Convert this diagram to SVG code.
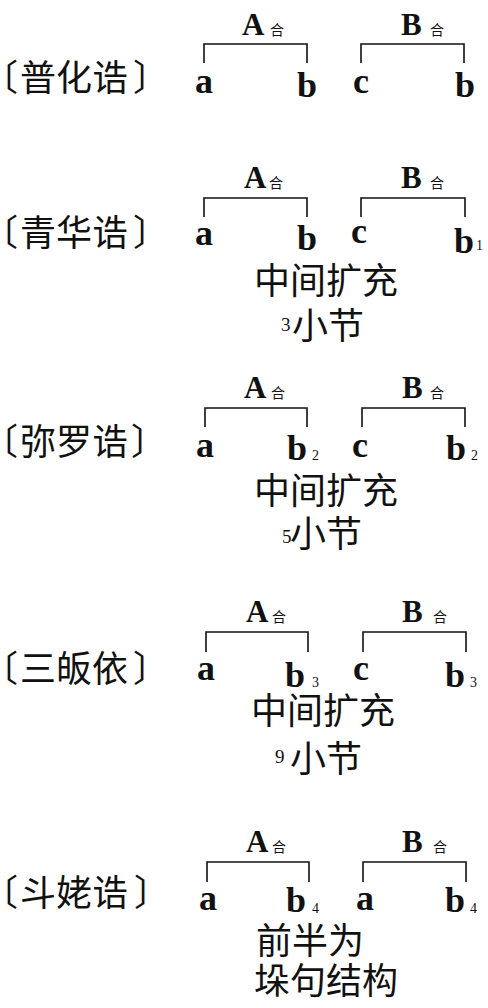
<svg xmlns="http://www.w3.org/2000/svg" width="488" height="1008" viewBox="0 0 488 1008">
<style>
.lab{font-family:"Noto Sans CJK SC","Noto Sans",sans-serif;font-size:36px;fill:#111;font-feature-settings:"halt" 1}
.mid{font-family:"Noto Sans CJK SC","Noto Sans",sans-serif;font-size:36px;fill:#111}
.let{font-family:"Liberation Serif","DejaVu Serif",serif;font-weight:bold;font-size:36px;fill:#111}
.cap{font-family:"Liberation Serif","DejaVu Serif",serif;font-weight:bold;font-size:31px;fill:#111}
.he{font-family:"Noto Sans CJK SC",sans-serif;font-size:14px;fill:#111}
.sub{font-family:"Liberation Serif","DejaVu Serif",serif;font-size:14px;fill:#111}
.num{font-family:"Liberation Serif","DejaVu Serif",serif;font-size:19px;fill:#111}
.br{fill:none;stroke:#111;stroke-width:1.6}
</style>
<rect width="488" height="1008" fill="#fff"/>
<g id="connectors">
<path class="br" d="M204,63V44H307V63M361,63V44H464V63"/>
<path class="br" d="M204,217V198H307V217M361,217V198H465V217"/>
<path class="br" d="M205,427V408H307V427M362,427V408H465V427"/>
<path class="br" d="M206,652V632H308V652M363,652V632H466V652"/>
<path class="br" d="M207,882V862H309V882M363,882V862H466V882"/>
</g>
<g id="row1">
<text class="lab" y="91"><tspan x="0">〔</tspan><tspan x="20">普化诰</tspan><tspan x="133">〕</tspan></text>
<text class="cap" x="242" y="35">A</text><text class="he" x="270" y="35">合</text>
<text class="cap" x="401" y="35">B</text><text class="he" x="430" y="35">合</text>
<text class="let" x="195" y="93">a</text><text class="let" x="297" y="97">b</text>
<text class="let" x="353" y="93">c</text><text class="let" x="455" y="97">b</text>
</g>
<g id="row2">
<text class="lab" y="246"><tspan x="0">〔</tspan><tspan x="20">青华诰</tspan><tspan x="133">〕</tspan></text>
<text class="cap" x="244" y="188">A</text><text class="he" x="269" y="188">合</text>
<text class="cap" x="401" y="188">B</text><text class="he" x="430" y="188">合</text>
<text class="let" x="195" y="245">a</text><text class="let" x="297" y="250">b</text>
<text class="let" x="351" y="243">c</text><text class="let" x="454" y="253">b</text><text class="sub" x="476" y="250">1</text>
<text class="mid" x="254" y="294">中间扩充</text>
<text class="num" x="281" y="331">3</text><text class="mid" x="292" y="339">小节</text>
</g>
<g id="row3">
<text class="lab" y="455"><tspan x="0">〔</tspan><tspan x="20">弥罗诰</tspan><tspan x="131">〕</tspan></text>
<text class="cap" x="244" y="398">A</text><text class="he" x="271" y="398">合</text>
<text class="cap" x="402" y="398">B</text><text class="he" x="430" y="398">合</text>
<text class="let" x="196" y="457">a</text><text class="let" x="287" y="460">b</text><text class="sub" x="312" y="460">2</text>
<text class="let" x="352" y="457">c</text><text class="let" x="446" y="460">b</text><text class="sub" x="471" y="460">2</text>
<text class="mid" x="254" y="504">中间扩充</text>
<text class="num" x="282" y="543">5</text><text class="mid" x="290" y="547">小节</text>
</g>
<g id="row4">
<text class="lab" y="682"><tspan x="0">〔</tspan><tspan x="20">三皈依</tspan><tspan x="133">〕</tspan></text>
<text class="cap" x="246" y="622">A</text><text class="he" x="272" y="622">合</text>
<text class="cap" x="402" y="622">B</text><text class="he" x="433" y="622">合</text>
<text class="let" x="197" y="680">a</text><text class="let" x="285" y="687">b</text><text class="sub" x="312" y="687">3</text>
<text class="let" x="353" y="680">c</text><text class="let" x="445" y="687">b</text><text class="sub" x="470" y="687">3</text>
<text class="mid" x="251" y="724">中间扩充</text>
<text class="num" x="275" y="763">9</text><text class="mid" x="290" y="772">小节</text>
</g>
<g id="row5">
<text class="lab" y="906"><tspan x="0">〔</tspan><tspan x="20">斗姥诰</tspan><tspan x="134">〕</tspan></text>
<text class="cap" x="246" y="852">A</text><text class="he" x="272" y="852">合</text>
<text class="cap" x="402" y="852">B</text><text class="he" x="433" y="852">合</text>
<text class="let" x="199" y="910">a</text><text class="let" x="286" y="912">b</text><text class="sub" x="312" y="913">4</text>
<text class="let" x="356" y="910">a</text><text class="let" x="445" y="912">b</text><text class="sub" x="470" y="913">4</text>
<text class="mid" x="256" y="954">前半为</text>
<text class="mid" x="254" y="994">垛句结构</text>
</g>
</svg>
